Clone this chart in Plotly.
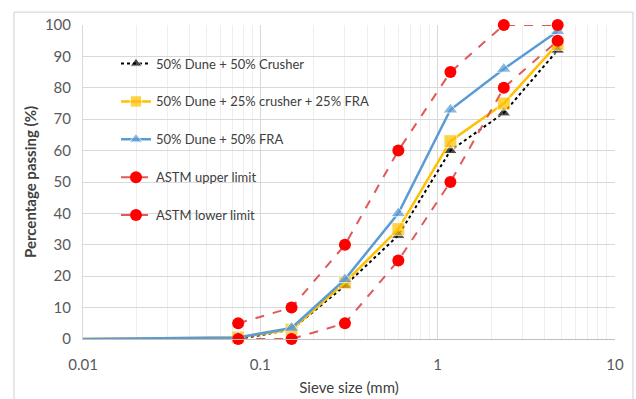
import plotly.graph_objects as go

sieve = [0.01, 0.075, 0.15, 0.3, 0.6, 1.18, 2.36, 4.75]
limit_sieve = [0.075, 0.15, 0.3, 0.6, 1.18, 2.36, 4.75]

dune_crusher = [0, 0, 3, 17, 33, 60, 72, 92]
dune_crusher_fra = [0, 0.5, 3, 18, 35, 63, 75, 94]
dune_fra = [0, 0.5, 3.5, 19, 40, 73, 86, 98]
astm_upper = [5, 10, 30, 60, 85, 100, 100]
astm_lower = [0, 0, 5, 25, 50, 80, 95]

names = ["50% Dune + 50% Crusher", "50% Dune + 25% crusher + 25% FRA",
         "50% Dune + 50% FRA", "ASTM upper limit", "ASTM lower limit"]


def sizes(base, n):
    return [0] + [base] * (n - 1)


fig = go.Figure()
fig.add_trace(go.Scatter(x=sieve, y=dune_crusher, name=names[0], mode="lines+markers",
                         line=dict(color="#000000", width=2, dash="dot"),
                         marker=dict(symbol="triangle-up", size=sizes(12, len(sieve)), color="#000000"),
                         legendgroup="a", cliponaxis=False))
fig.add_trace(go.Scatter(x=sieve, y=dune_crusher_fra, name=names[1], mode="lines+markers",
                         line=dict(color="#FFC000", width=2.5),
                         marker=dict(symbol="square", size=sizes(13, len(sieve)), color="#FFC000"),
                         legendgroup="b", cliponaxis=False))
fig.add_trace(go.Scatter(x=sieve, y=dune_fra, name=names[2], mode="lines+markers",
                         line=dict(color="#5B9BD5", width=2.5),
                         marker=dict(symbol="triangle-up", size=sizes(13, len(sieve)), color="#5B9BD5"),
                         legendgroup="c", cliponaxis=False))
fig.add_trace(go.Scatter(x=limit_sieve, y=astm_upper, name=names[3], mode="lines+markers",
                         line=dict(color="#E05A5A", width=2, dash="dash"),
                         marker=dict(symbol="circle", size=12, color="#FF0000"),
                         legendgroup="d", cliponaxis=False))
fig.add_trace(go.Scatter(x=limit_sieve, y=astm_lower, name=names[4], mode="lines+markers",
                         line=dict(color="#E05A5A", width=2, dash="dash"),
                         marker=dict(symbol="circle", size=12, color="#FF0000"),
                         legendgroup="e", cliponaxis=False))

fig.update_layout(
    width=636, height=399,
    margin=dict(l=83, r=21, t=25, b=60),
    paper_bgcolor="white", plot_bgcolor="white",
    font=dict(family="Lato, sans-serif", color="#595959", size=15),
    legend=dict(x=0.062, y=0.925, xanchor="left", yanchor="top",
                bgcolor="rgba(0,0,0,0)", traceorder="grouped", tracegroupgap=18,
                font=dict(size=13, color="#404040")),
    xaxis=dict(type="log", range=[-2, 1], dtick=1,
               tickvals=[0.01, 0.1, 1, 10], ticktext=["0.01", "0.1", "1", "10"],
               showgrid=True, gridcolor="#D9D9D9", gridwidth=1,
               minor=dict(showgrid=True, gridcolor="#EEEEEE", dtick="D1"),
               showline=True, linecolor="#BFBFBF", zeroline=False,
               ticklabelstandoff=12, automargin=False,
               title=dict(text="Sieve size (mm)", standoff=10, font=dict(size=15, color="#404040"))),
    yaxis=dict(range=[0, 100], dtick=10, showgrid=True, gridcolor="#D9D9D9",
               zeroline=False, showline=True, linecolor="#D9D9D9",
               ticklabelstandoff=8, automargin=False,
               title=dict(text="<b>Percentage passing (%)</b>", standoff=4,
                          font=dict(size=15, color="#404040"))),
    shapes=[dict(type="rect", xref="paper", yref="paper", x0=-0.1297, x1=1.0338,
                 y0=-0.195, y1=1.041, line=dict(color="#D0D0D0", width=1))],
)

fig.write_html("out.html", config={"displayModeBar": False},
               post_script="document.body.style.margin='0';")
